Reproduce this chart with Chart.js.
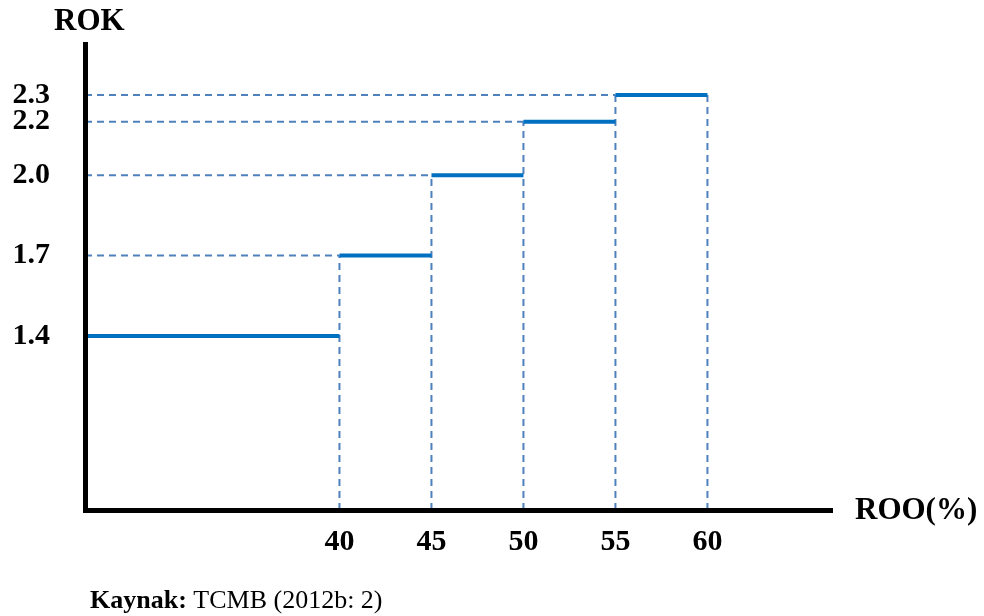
<!DOCTYPE html>
<html>
<head>
<meta charset="utf-8">
<script src="https://cdn.jsdelivr.net/npm/chart.js@4.4.1/dist/chart.umd.min.js"></script>
<style>
  html, body { margin: 0; padding: 0; background: #ffffff; }
  #wrap { position: relative; width: 984px; height: 616px; }
</style>
</head>
<body>
<div id="wrap"><canvas id="c" width="984" height="616"></canvas></div>
<script>
// ---- data ----
const rooBreaks = [40, 45, 50, 55, 60];          // ROO(%) thresholds (x)
const rokLevels = [1.4, 1.7, 2.0, 2.2, 2.3];     // ROK levels (y)
const xTickLabels = [40, 45, 50, 55, 60];
const yTickLabels = [1.4, 1.7, 2.0, 2.2, 2.3];
const xAxisTitle = 'ROO(%)';
const yAxisTitle = 'ROK';
const sourceBold = 'Kaynak:';
const sourceText = ' TCMB (2012b: 2)';

// ---- scale ranges (axis extents of the schematic) ----
const X_MIN = 26.17, X_MAX = 66.77;
const Y_MIN = 0.75, Y_MAX = 2.49;

const STEP_COLOR = '#0070C0';
const DASH_COLOR = '#4F81BD';
const FONT = '"Liberation Serif", "Times New Roman", serif';

// step segments: level i spans from previous break (or axis) to break i
const stepData = [];
rokLevels.forEach((lv, i) => {
  const x0 = i === 0 ? X_MIN : rooBreaks[i - 1];
  stepData.push({ x: x0, y: lv }, { x: rooBreaks[i], y: lv });
  if (i < rokLevels.length - 1) stepData.push({ x: rooBreaks[i], y: null });
});

const datasets = [{
  data: stepData,
  borderColor: STEP_COLOR,
  borderWidth: 4,
  showLine: true,
  spanGaps: false,
  pointRadius: 0,
  borderCapStyle: 'butt'
}];

// horizontal dashed guides from the axis to the start of each level
rokLevels.forEach((lv, i) => {
  if (i === 0) return;
  datasets.push({
    data: [{ x: X_MIN, y: lv }, { x: rooBreaks[i - 1], y: lv }],
    borderColor: DASH_COLOR, borderWidth: 2, borderDash: [7, 5],
    showLine: true, pointRadius: 0
  });
});
// vertical dashed guides from the x axis up to the higher adjacent level
rooBreaks.forEach((bx, i) => {
  const top = rokLevels[Math.min(i + 1, rokLevels.length - 1)];
  datasets.push({
    data: [{ x: bx, y: Y_MIN }, { x: bx, y: top }],
    borderColor: DASH_COLOR, borderWidth: 2, borderDash: [7, 5],
    showLine: true, pointRadius: 0
  });
});

const textPlugin = {
  id: 'extraText',
  afterDraw(chart) {
    const ctx = chart.ctx;
    const area = chart.chartArea;
    ctx.save();
    ctx.fillStyle = '#000';
    ctx.textBaseline = 'middle';
    ctx.font = 'bold 31px ' + FONT;
    ctx.textAlign = 'left';
    ctx.fillText(yAxisTitle, 54, 22);
    ctx.fillText(xAxisTitle, area.right + 23, area.bottom + 1);
    ctx.textBaseline = 'alphabetic';
    ctx.font = 'bold 26px ' + FONT;
    ctx.fillText(sourceBold, 90, 608);
    const w = ctx.measureText(sourceBold).width;
    ctx.font = '26px ' + FONT;
    ctx.fillText(sourceText, 90 + w, 608);
    ctx.restore();
  }
};

new Chart(document.getElementById('c'), {
  type: 'scatter',
  data: { datasets },
  options: {
    responsive: false,
    animation: false,
    events: [],
    layout: { padding: { left: 0, top: 44, right: 152, bottom: 46 } },
    plugins: { legend: { display: false }, tooltip: { enabled: false }, title: { display: false } },
    scales: {
      x: {
        type: 'linear', min: X_MIN, max: X_MAX,
        grid: { display: false, drawTicks: false },
        border: { display: true, color: '#000', width: 5, z: 1 },
        afterBuildTicks(scale) { scale.ticks = xTickLabels.map(v => ({ value: v })); },
        afterFit(scale) { scale.height = 60; scale.paddingLeft = 0; scale.paddingRight = 0; },
        ticks: {
          padding: 14, color: '#000', maxRotation: 0, autoSkip: false,
          font: { family: FONT, size: 30, weight: 'bold' },
          callback: v => String(v)
        }
      },
      y: {
        type: 'linear', min: Y_MIN, max: Y_MAX,
        grid: { display: false, drawTicks: false },
        border: { display: true, color: '#000', width: 5, z: 1 },
        afterBuildTicks(scale) { scale.ticks = yTickLabels.map(v => ({ value: v })); },
        afterFit(scale) { scale.width = 85; scale.paddingTop = 0; scale.paddingBottom = 0; },
        ticks: {
          padding: 35, color: '#000', autoSkip: false,
          font: { family: FONT, size: 30, weight: 'bold' },
          callback: v => Number(v).toFixed(1)
        }
      }
    }
  },
  plugins: [textPlugin]
});
</script>
</body>
</html>
